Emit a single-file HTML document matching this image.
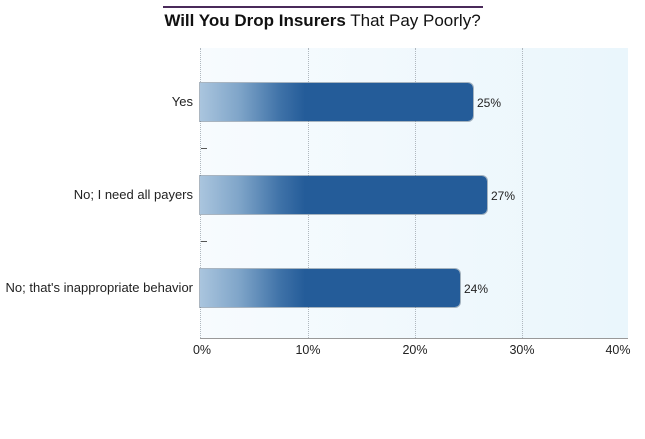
<!DOCTYPE html>
<html><head><style>
body{margin:0;width:645px;height:439px;background:#fff;font-family:"Liberation Sans",sans-serif;position:relative;overflow:hidden}
.a{position:absolute}
.bar{position:absolute;left:200px;height:38px;border-radius:0 5px 5px 0;background:linear-gradient(to right,#aac5de 0px,#7ea4c8 40px,#3f72a8 80px,#245c99 105px,#245c99 100%);box-shadow:0 0 0 1px rgba(90,110,130,0.5)}
.lbl{position:absolute;right:452px;font-size:13px;color:#222;text-align:right;white-space:nowrap}
.val{position:absolute;font-size:12px;color:#222}
.tk{position:absolute;top:343px;font-size:12.5px;color:#222;width:40px;text-align:center}
.g{position:absolute;top:48px;height:290px;border-left:1px dotted #b0b8bf}
</style></head><body>
<div class="a" style="left:163px;top:6px;width:320px;height:2px;background:#4a2a5a"></div>
<div class="a" style="left:0;width:645px;top:11px;text-align:center;font-size:17px;color:#111"><b>Will You Drop Insurers</b> That Pay Poorly?</div>
<div class="a" style="left:200px;top:48px;width:428px;height:290px;background:linear-gradient(to right,#f7fbfe,#eaf6fc)"></div>
<div class="g" style="left:200px"></div>
<div class="g" style="left:308px"></div>
<div class="g" style="left:415px"></div>
<div class="g" style="left:522px"></div>
<div class="a" style="left:200px;top:338px;width:428px;height:1px;background:#999"></div>
<div class="a" style="left:201px;top:148px;width:6px;height:1px;background:#555"></div>
<div class="a" style="left:201px;top:241px;width:6px;height:1px;background:#555"></div>
<div class="bar" style="top:83px;width:273px"></div>
<div class="bar" style="top:176px;width:287px"></div>
<div class="bar" style="top:269px;width:260px"></div>
<div class="lbl" style="top:94px">Yes</div>
<div class="lbl" style="top:187px">No; I need all payers</div>
<div class="lbl" style="top:280px">No; that's inappropriate behavior</div>
<div class="val" style="left:477px;top:96px">25%</div>
<div class="val" style="left:491px;top:189px">27%</div>
<div class="val" style="left:464px;top:282px">24%</div>
<div class="tk" style="left:182px">0%</div>
<div class="tk" style="left:288px">10%</div>
<div class="tk" style="left:395px">20%</div>
<div class="tk" style="left:502px">30%</div>
<div class="tk" style="left:598px">40%</div>
</body></html>
